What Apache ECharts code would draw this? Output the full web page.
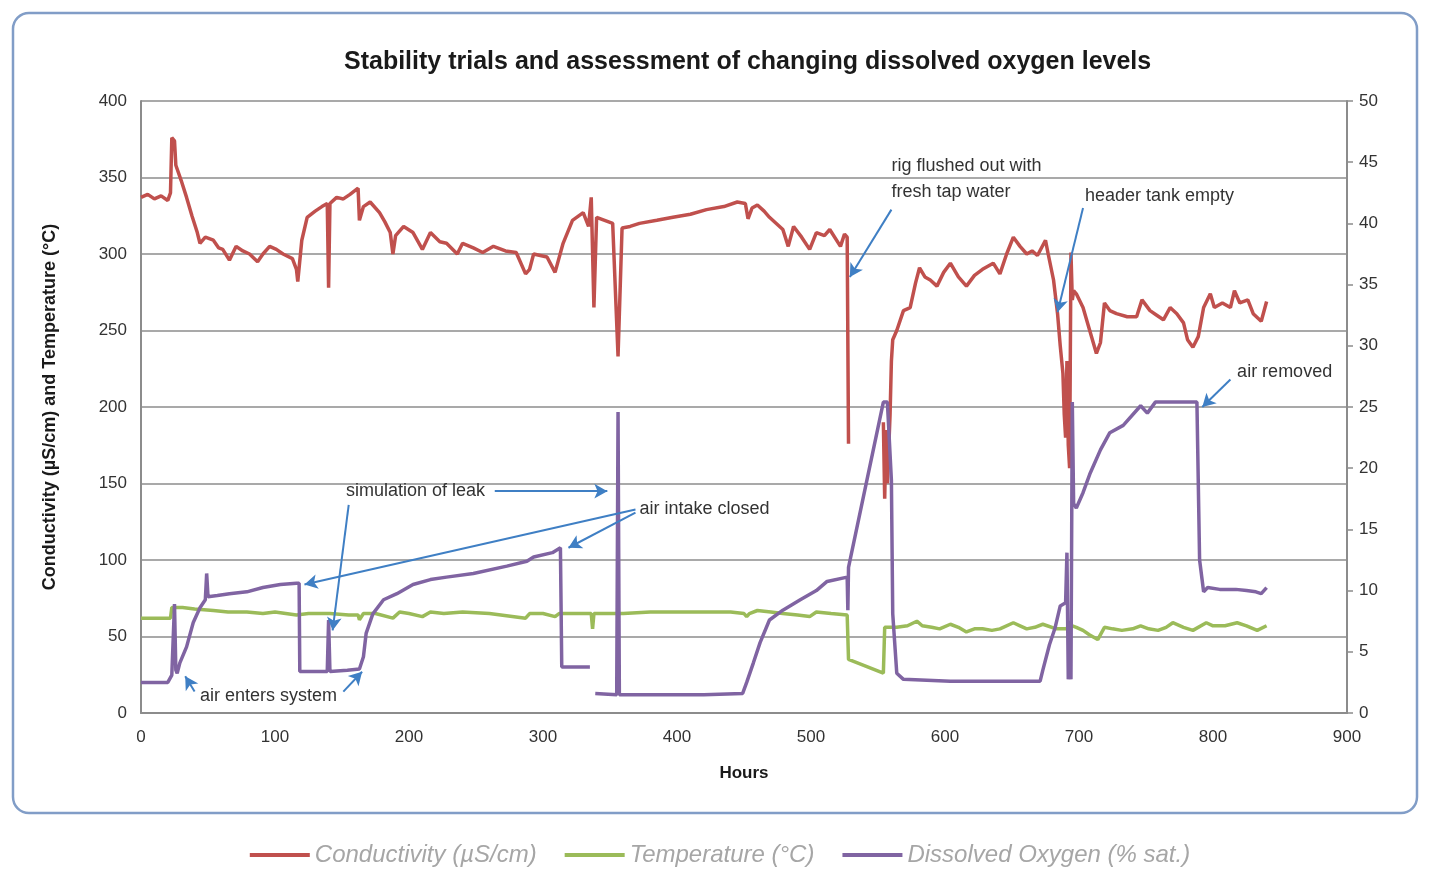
<!DOCTYPE html>
<html>
<head>
<meta charset="utf-8">
<title>Stability trials</title>
<script src="https://cdn.jsdelivr.net/npm/echarts@6/dist/echarts.min.js"></script>
<style>
  html, body { margin: 0; padding: 0; background: #fff; }
  #chart { width: 1440px; height: 878px; }
</style>
</head>
<body>
<div id="chart"></div>
<script>
// hours vs value (null = gap in the record)
var conductivity = [
  [0,337],[5,339],[10,336],[15,338],[20,335],[22,340],[23,376],[25,374],[26,358],[30,348],[34,337],[38,325],
  [42,314],[44,307],[48,311],[54,309],[58,304],[61,303],[66,296],[71,305],[76,302],[81,300],[87,295],[91,300],
  [96,305],[101,303],[106,300],[113,297],[116,290],[117,282],[120,309],[124,324],[130,328],[135,331],[139,333],
  [140,278],[141,333],[146,337],[151,336],[156,339],[162,343],[163,322],[166,331],[171,334],[178,327],[182,321],
  [186,314],[188,300],[190,312],[196,318],[203,314],[210,303],[216,314],[223,308],[228,307],[236,300],[240,307],
  [248,304],[255,301],[263,305],[272,302],[280,301],[287,287],[290,290],[293,300],[298,299],[303,298],[309,288],
  [315,307],[322,322],[330,327],[334,318],[336,337],[338,265],[340,324],[346,322],[352,320],[356,233],[359,317],
  [365,318],[372,320],[385,322],[397,324],[410,326],[422,329],[435,331],[445,334],[451,333],[453,323],[456,330],
  [460,332],[465,328],[469,324],[479,316],[483,305],[487,318],[493,311],[499,303],[504,314],[510,312],[514,316],
  [522,305],[525,313],[527,311],[528,176],[540,null],
  [554,190],[555,140],[556,185],[557,150],[559,195],[560,230],[561,244],[564,250],[569,263],[574,265],[578,281],
  [581,291],[585,285],[589,283],[594,279],[599,288],[604,294],[610,285],[616,279],[622,286],[628,290],[636,294],
  [641,287],[646,300],[651,311],[656,305],[661,300],[665,302],[669,299],[675,309],[677,300],[681,283],[684,261],
  [686,240],[688,222],[689,195],[690,180],[691,230],[692,175],[693,160],[694,301],[695,270],[696,276],[698,274],
  [703,265],[708,250],[713,235],[716,242],[719,268],[723,263],[728,261],[736,259],[743,259],[747,270],[753,263],
  [758,260],[763,257],[768,265],[773,261],[778,255],[781,244],[785,239],[789,246],[793,265],[798,274],[801,265],
  [807,268],[813,265],[816,276],[820,268],[826,270],[830,261],[836,256],[840,269]
];

var temperature = [
  [0,62],[10,62],[22,62],[23,69],[31,69],[40,68],[54,67],[65,66],[79,66],[91,65],[100,66],[116,64],[125,65],
  [141,65],[155,64],[162,64],[163,61],[166,65],[175,65],[188,62],[193,66],[200,65],[210,63],[216,66],[226,65],
  [240,66],[260,65],[287,62],[290,65],[300,65],[309,63],[312,65],[336,65],[337,55],[338,65],[360,65],[380,66],
  [400,66],[420,66],[440,66],[450,65],[452,63],[454,65],[460,67],[470,66],[479,65],[490,64],[499,63],[504,66],
  [515,65],[527,64],[528,35],[554,26],[555,56],[564,56],[572,57],[579,60],[583,57],[590,56],[596,55],[604,58],
  [610,56],[616,53],[622,55],[628,55],[635,54],[641,55],[651,59],[656,57],[661,55],[667,56],[673,58],[683,55],
  [690,55],[695,57],[698,56],[703,54],[708,51],[714,48],[719,56],[725,55],[732,54],[740,55],[746,57],[752,55],
  [759,54],[765,56],[770,59],[778,56],[785,54],[795,59],[800,57],[809,57],[818,59],[825,57],[833,54],[840,57]
];

var dissolvedOxygen = [
  [0,2.5],[10,2.5],[20,2.5],[23,3.1],[25,8.9],[26,3.5],[27,3.25],[29,4.1],[34,5.4],[39,7.4],[44,8.6],[48,9.25],
  [49,11.4],[50,9.5],[57,9.6],[66,9.75],[79,9.9],[91,10.25],[104,10.5],[116,10.6],[118,10.6],[118.5,3.4],
  [128,3.4],[139,3.4],[140,7.6],[141,3.4],[154,3.5],[163,3.6],[166,4.6],[168,6.5],[173,8.1],[181,9.25],
  [191,9.75],[203,10.5],[216,10.9],[228,11.1],[248,11.4],[273,12],[288,12.4],[293,12.75],[307,13.1],[313,13.5],
  [314,3.75],[335,3.75],[337,null],[339,1.6],[355,1.5],[356,24.6],[357,1.5],[380,1.5],[420,1.5],[449,1.6],
  [452,2.5],[457,4.1],[462,5.75],[469,7.6],[479,8.4],[492,9.25],[504,10],[512,10.75],[527,11.1],[527.5,8.4],
  [528,11.9],[554,25.4],[557,25.4],[560,19],[561,8.1],[564,3.25],[569,2.75],[604,2.6],[640,2.6],[671,2.6],
  [673,3.5],[678,5.6],[682,6.9],[686,8.75],[690,9],[691,13.1],[692,2.75],[693,7.5],[694,2.75],[695,25.4],
  [696,17.1],[698,16.75],[703,18],[708,19.5],[716,21.5],[723,22.9],[733,23.5],[746,25.1],[751,24.5],[757,25.4],
  [788,25.4],[790,12.5],[793,9.9],[796,10.25],[805,10.1],[817,10.1],[825,10],[832,9.9],[836,9.75],[840,10.25]
];

// annotation arrows: [from, to] in hours / left-axis units
var arrows = [
  [[264, 145], [348, 145]],
  [[155, 136], [143, 54]],
  [[369, 133], [122, 84]],
  [[369, 131], [319, 108]],
  [[40, 14], [33, 24]],
  [[151, 14], [165, 27]],
  [[560, 329], [529, 285]],
  [[703, 330], [684, 262]],
  [[813, 218], [792, 200]]
];
var notes = [
  ['simulation of leak', 153, 145],
  ['air intake closed', 372, 133],
  ['air enters system', 44, 11],
  ['rig flushed out with', 560, 357.5],
  ['fresh tap water', 560, 340.5],
  ['header tank empty', 704.5, 338],
  ['air removed', 818, 223]
];

var font = 'Liberation Sans, Arial, Helvetica, sans-serif';
var chart = echarts.init(document.getElementById('chart'));

var option = {
  animation: false,
  textStyle: { fontFamily: font },
  title: {
    text: 'Stability trials and assessment of changing dissolved oxygen levels',
    left: 339,
    top: 45,
    textStyle: { fontSize: 25, fontWeight: 'bold', color: '#1a1a1a', fontFamily: font }
  },
  color: ['#c0504d', '#9bbb59', '#8064a2'],
  legend: {
    top: 838,
    left: 'center',
    icon: 'rect',
    itemWidth: 60,
    itemHeight: 4,
    itemGap: 28,
    textStyle: { fontSize: 24, fontStyle: 'italic', color: '#a6a6a6', fontFamily: font },
    data: ['Conductivity (µS/cm)', 'Temperature (°C)', 'Dissolved Oxygen (% sat.)']
  },
  graphic: [{
    type: 'rect',
    shape: { x: 13, y: 13, width: 1404, height: 800, r: 16 },
    style: { fill: 'none', stroke: '#819dc7', lineWidth: 2.5 },
    silent: true
  }],
  grid: { left: 141, right: 93, top: 101, bottom: 165 },
  xAxis: {
    type: 'value',
    min: 0, max: 900, interval: 100,
    name: 'Hours',
    nameLocation: 'middle',
    nameGap: 52,
    nameTextStyle: { fontSize: 17, fontWeight: 'bold', color: '#1a1a1a' },
    axisLine: { show: true, lineStyle: { color: '#8c8c8c', width: 2 } },
    axisTick: { show: false },
    axisLabel: { fontSize: 17, color: '#333', margin: 16 },
    splitLine: { show: false }
  },
  yAxis: [{
    type: 'value',
    min: 0, max: 400, interval: 50,
    name: 'Conductivity (µS/cm) and Temperature (°C)',
    nameLocation: 'middle',
    nameGap: 82,
    nameTextStyle: { fontSize: 18, fontWeight: 'bold', color: '#1a1a1a' },
    axisLine: { show: true, lineStyle: { color: '#8c8c8c', width: 2 } },
    axisTick: { show: false },
    axisLabel: { fontSize: 17, color: '#333', margin: 14 },
    splitLine: { show: true, lineStyle: { color: '#8c8c8c', width: 1.5 } }
  }, {
    type: 'value',
    min: 0, max: 50, interval: 5,
    position: 'right',
    axisLine: { show: true, lineStyle: { color: '#8c8c8c', width: 2 } },
    axisTick: { show: true, length: 6, lineStyle: { color: '#8c8c8c', width: 1.5 } },
    axisLabel: { fontSize: 17, color: '#333', margin: 12 },
    splitLine: { show: false }
  }],
  series: [{
    name: 'Conductivity (µS/cm)',
    type: 'line',
    yAxisIndex: 0,
    showSymbol: false,
    data: conductivity,
    lineStyle: { width: 3.5, color: '#c0504d' },
    z: 3
  }, {
    name: 'Temperature (°C)',
    type: 'line',
    yAxisIndex: 0,
    showSymbol: false,
    data: temperature,
    lineStyle: { width: 3.5, color: '#9bbb59' },
    z: 2
  }, {
    name: 'Dissolved Oxygen (% sat.)',
    type: 'line',
    yAxisIndex: 1,
    showSymbol: false,
    data: dissolvedOxygen,
    lineStyle: { width: 3.5, color: '#8064a2' },
    z: 4
  }, {
    name: 'notes',
    type: 'line',
    yAxisIndex: 0,
    data: [],
    z: 6,
    markLine: {
      silent: true,
      symbol: ['none', 'arrow'],
      symbolSize: [11, 13],
      label: { show: false },
      lineStyle: { color: '#3f7fc4', width: 2, type: 'solid' },
      data: arrows.map(function (a) {
        return [{ coord: a[0] }, { coord: a[1] }];
      })
    },
    markPoint: {
      silent: true,
      symbolSize: 0,
      label: { show: true, position: 'right', distance: 0, fontSize: 18, color: '#333', fontFamily: font },
      data: notes.map(function (n) {
        return { coord: [n[1], n[2]], value: n[0], label: { formatter: n[0] } };
      })
    }
  }]
};
chart.setOption(option);
</script>
</body>
</html>
